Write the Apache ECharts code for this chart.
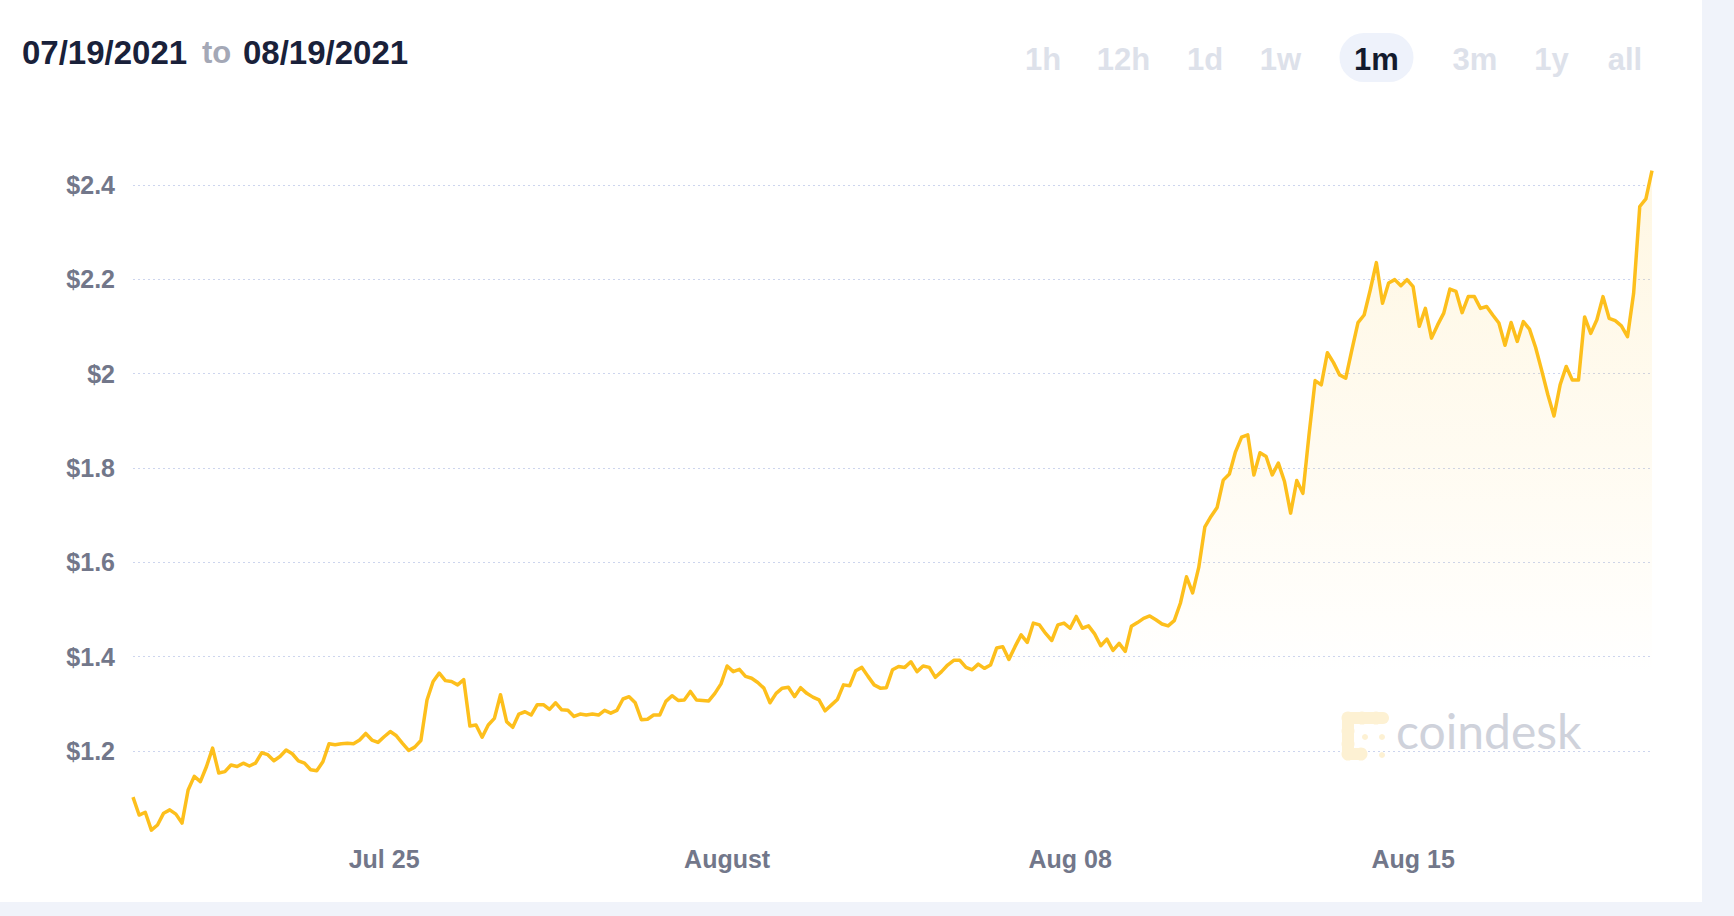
<!DOCTYPE html>
<html>
<head>
<meta charset="utf-8">
<script src="https://cdn.jsdelivr.net/npm/echarts@6/dist/echarts.min.js"></script>
<style>
html,body{margin:0;padding:0;background:#f0f3fa;overflow:hidden;}
#card{position:absolute;left:0;top:0;width:1702px;height:902px;background:#ffffff;}
#chart{position:absolute;left:0;top:0;width:1734px;height:916px;}
</style>
</head>
<body>
<div id="card"></div>
<div id="chart"></div>
<script>
// ---------- DATA ----------
const dateFrom = '07/19/2021';
const dateTo = '08/19/2021';
const startTime = '2021-07-19T21:00:00';
const endTime = '2021-08-19T21:00:00';
const stepHours = 3;
const prices = [
  1.102, 1.064, 1.070, 1.032, 1.043, 1.068, 1.075, 1.066, 1.047, 1.117,
  1.146, 1.135, 1.167, 1.206, 1.153, 1.156, 1.170, 1.167, 1.174, 1.168,
  1.174, 1.196, 1.192, 1.179, 1.188, 1.202, 1.194, 1.179, 1.174, 1.160,
  1.158, 1.177, 1.215, 1.213, 1.215, 1.216, 1.215, 1.223, 1.237, 1.223,
  1.218, 1.230,
  1.241, 1.232, 1.216, 1.201, 1.208, 1.222, 1.308, 1.347, 1.365, 1.349,
  1.347, 1.340, 1.351, 1.253, 1.255, 1.229, 1.255, 1.269, 1.319, 1.262,
  1.250, 1.278, 1.283, 1.276, 1.298, 1.298, 1.288, 1.302, 1.287, 1.286,
  1.273, 1.278, 1.276, 1.278, 1.276, 1.286, 1.280, 1.286, 1.310, 1.315,
  1.302, 1.266, 1.267,
  1.276, 1.276, 1.305, 1.317, 1.307, 1.308, 1.326, 1.308, 1.307, 1.306,
  1.322, 1.342, 1.380, 1.368, 1.373, 1.358, 1.354, 1.345, 1.333, 1.302,
  1.322, 1.333, 1.335, 1.315, 1.334, 1.322, 1.314, 1.308, 1.285, 1.297,
  1.309, 1.340, 1.338, 1.370, 1.377, 1.358, 1.340, 1.333, 1.334, 1.372,
  1.379, 1.377,
  1.389, 1.368, 1.380, 1.377, 1.356, 1.368, 1.382, 1.392, 1.392, 1.377,
  1.372, 1.384, 1.375, 1.382, 1.418, 1.421, 1.394, 1.421, 1.446, 1.430,
  1.471, 1.467, 1.449, 1.434, 1.467, 1.471, 1.460, 1.485, 1.460, 1.465,
  1.448, 1.423, 1.437, 1.413, 1.428, 1.411, 1.464, 1.472, 1.481, 1.486,
  1.478, 1.469, 1.465,
  1.476, 1.513, 1.569, 1.535, 1.589, 1.675, 1.697, 1.716, 1.774, 1.787,
  1.834, 1.865, 1.870, 1.785, 1.832, 1.824, 1.785, 1.810, 1.771, 1.704,
  1.773, 1.746, 1.870, 1.985, 1.976, 2.044, 2.023, 1.997, 1.990, 2.050,
  2.108, 2.124, 2.177, 2.235, 2.149, 2.192, 2.199, 2.186, 2.199,
  2.184, 2.100, 2.138, 2.075, 2.103, 2.128, 2.179, 2.174, 2.129, 2.163,
  2.163, 2.138, 2.142, 2.124, 2.107, 2.060, 2.108, 2.068, 2.110, 2.094,
  2.055, 2.006, 1.955, 1.910, 1.976, 2.015, 1.986, 1.986, 2.120, 2.085,
  2.114, 2.163, 2.117, 2.112, 2.101, 2.078, 2.170, 2.354, 2.370, 2.430
];
const xTickDates = ['2021-07-25T00:00:00', '2021-08-01T00:00:00', '2021-08-08T00:00:00', '2021-08-15T00:00:00'];
const xTickLabels = ['Jul 25', 'August', 'Aug 08', 'Aug 15'];
const yMin = 1.0, yMax = 2.6, yStep = 0.2;
const rangeButtons = ['1h', '12h', '1d', '1w', '1m', '3m', '1y', 'all'];
const activeRange = '1m';
const watermarkText = 'coindesk';

// ---------- BUILD ----------
const t0 = new Date(startTime).getTime();
const t1 = new Date(endTime).getTime();
const seriesData = prices.map((p, i) => [t0 + i * stepHours * 3600 * 1000, p]);
const xTickTimes = xTickDates.map(d => new Date(d).getTime());

const FONT = '"Liberation Sans", Arial, Helvetica, sans-serif';
const LINE = '#fdbf1c';

// layout for header buttons (centres in px)
const btnX = [1043, 1123.5, 1205, 1280.5, 1376.5, 1475, 1551.5, 1625];
const graphics = [];
graphics.push({type: 'text', x: 22, y: 52, style: {text: dateFrom, fontFamily: FONT, fontSize: 33, fontWeight: 'bold', fill: '#19213a', align: 'left', verticalAlign: 'middle'}});
graphics.push({type: 'text', x: 202, y: 52, style: {text: 'to', fontFamily: FONT, fontSize: 31, fontWeight: 'bold', fill: '#a4a8b6', align: 'left', verticalAlign: 'middle'}});
graphics.push({type: 'text', x: 243, y: 52, style: {text: dateTo, fontFamily: FONT, fontSize: 33, fontWeight: 'bold', fill: '#19213a', align: 'left', verticalAlign: 'middle'}});
rangeButtons.forEach((b, i) => {
  const active = b === activeRange;
  if (active) {
    graphics.push({type: 'rect', shape: {x: btnX[i] - 37, y: 33, width: 74, height: 49, r: 24.5}, style: {fill: '#eef2fb'}});
  }
  graphics.push({type: 'text', x: btnX[i], y: 59, style: {text: b, fontFamily: FONT, fontSize: 31, fontWeight: 'bold', fill: active ? '#131a2d' : '#dde1ea', align: 'center', verticalAlign: 'middle'}});
});
// watermark logo
const wmFill = '#fdf1d3';
[[1348,718,6.5],[1362,718,6.5],[1376,718,6.5],[1383,718,6],[1348,731,6.5],[1348,744,6.5],[1348,754,6.5],[1361,754,6.5]].forEach(c => {
  graphics.push({type: 'circle', z: 1, shape: {cx: c[0], cy: c[1], r: c[2]}, style: {fill: wmFill}});
});
graphics.push({type: 'rect', z: 1, shape: {x: 1348, y: 712, width: 35, height: 12}, style: {fill: wmFill}});
graphics.push({type: 'rect', z: 1, shape: {x: 1342, y: 718, width: 12, height: 36}, style: {fill: wmFill}});
graphics.push({type: 'rect', z: 1, shape: {x: 1348, y: 748, width: 13, height: 12}, style: {fill: wmFill}});
[[1365,737],[1382,737],[1382,755]].forEach(c => {
  graphics.push({type: 'circle', z: 1, shape: {cx: c[0], cy: c[1], r: 3}, style: {fill: wmFill}});
});
graphics.push({type: 'text', z: 1, x: 1396, y: 754, style: {text: watermarkText, fontFamily: 'Lato, "Open Sans", sans-serif', fontSize: 48, fontWeight: 'normal', fill: '#cfd2db', align: 'left', verticalAlign: 'bottom'}});

const chart = echarts.init(document.getElementById('chart'), null, {renderer: 'svg'});
chart.setOption({
  animation: false,
  backgroundColor: 'transparent',
  grid: {left: 133, right: 82, top: 90.45, bottom: 70.75, containLabel: false},
  xAxis: {
    type: 'value',
    min: t0,
    max: t1,
    axisLine: {show: false},
    axisTick: {show: false},
    splitLine: {show: false},
    axisLabel: {
      customValues: xTickTimes,
      formatter: function (v) {
        let best = 0, bd = Infinity;
        xTickTimes.forEach((t, i) => { const d = Math.abs(t - v); if (d < bd) { bd = d; best = i; } });
        return bd < 3600 * 1000 ? xTickLabels[best] : '';
      },
      color: '#72778a',
      fontFamily: FONT,
      fontSize: 25,
      fontWeight: 'bold',
      margin: 1
    }
  },
  yAxis: {
    type: 'value',
    min: yMin,
    max: yMax,
    interval: yStep,
    axisLine: {show: false},
    axisTick: {show: false},
    splitLine: {show: true, showMinLine: false, showMaxLine: false, lineStyle: {color: '#cdd5ee', width: 1, type: [2, 3]}},
    axisLabel: {
      showMinLabel: false,
      showMaxLabel: false,
      formatter: v => '$' + (+v.toFixed(2)),
      color: '#72778a',
      fontFamily: FONT,
      fontSize: 25,
      fontWeight: 'bold',
      margin: 18
    }
  },
  graphic: graphics,
  series: [{
    type: 'line',
    data: seriesData,
    showSymbol: false,
    symbol: 'none',
    z: 3,
    lineStyle: {color: LINE, width: 3.5, join: 'round'},
    areaStyle: {
      origin: 'start',
      color: new echarts.graphic.LinearGradient(0, 0, 0, 1, [
        {offset: 0, color: 'rgba(253,191,28,0.18)'},
        {offset: 0.45, color: 'rgba(253,191,28,0.08)'},
        {offset: 0.75, color: 'rgba(253,191,28,0)'}
      ])
    }
  }]
});
</script>
</body>
</html>
